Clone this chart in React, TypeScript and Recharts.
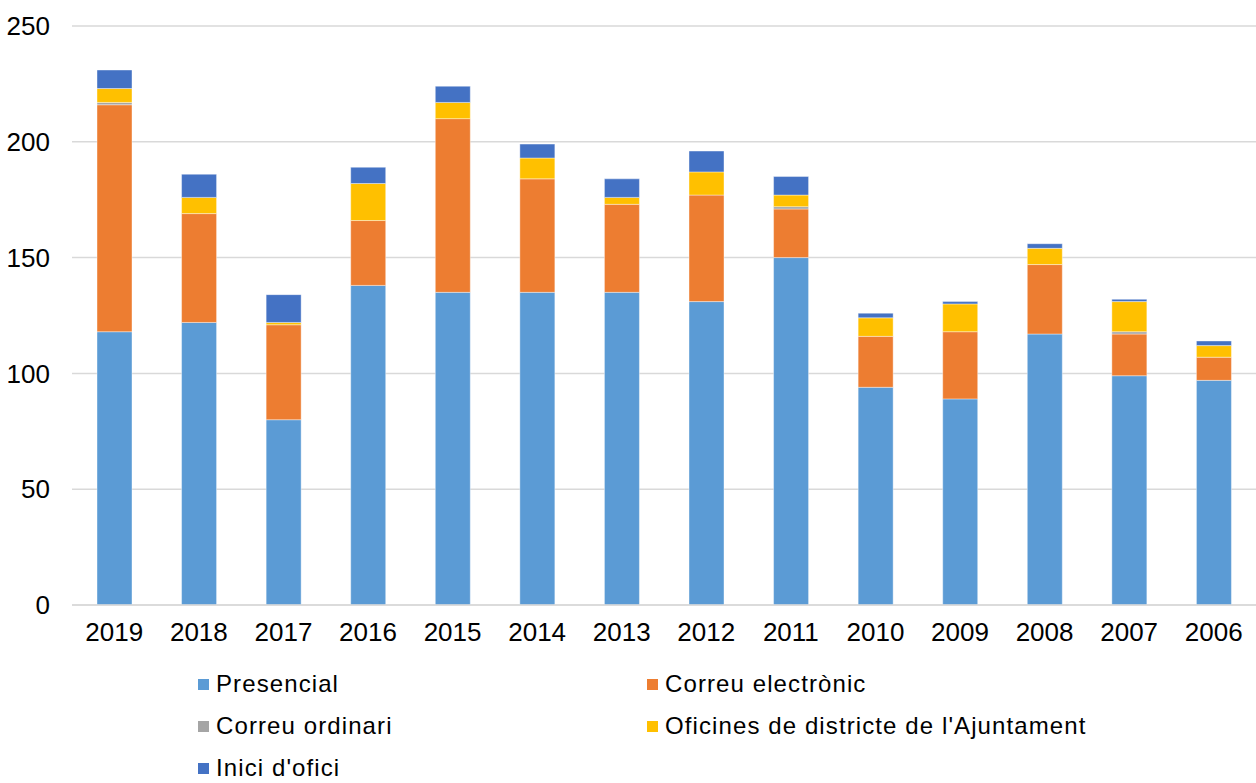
import React from 'react';
import { BarChart, Bar, XAxis, YAxis, CartesianGrid } from 'recharts';

const years = ['2019', '2018', '2017', '2016', '2015', '2014', '2013', '2012', '2011', '2010', '2009', '2008', '2007', '2006'];
const presencial = [118, 122, 80, 138, 135, 135, 135, 131, 150, 94, 89, 117, 99, 97];
const correuElectronic = [98, 47, 41, 28, 75, 49, 38, 46, 21, 22, 29, 30, 18, 10];
const correuOrdinari = [1, 0, 0, 0, 0, 0, 0, 0, 1, 0, 0, 0, 1, 0];
const oficines = [6, 7, 1, 16, 7, 9, 3, 10, 5, 8, 12, 7, 13, 5];
const iniciOfici = [8, 10, 12, 7, 7, 6, 8, 9, 8, 2, 1, 2, 1, 2];
const yTicks = [0, 50, 100, 150, 200, 250];

const seriesNames = ['Presencial', 'Correu electrònic', 'Correu ordinari', "Oficines de districte de l'Ajuntament", "Inici d'ofici"];
const seriesColors = ['#5B9BD5', '#ED7D31', '#A5A5A5', '#FFC000', '#4472C4'];
const seriesKeys = ['presencial', 'correuElectronic', 'correuOrdinari', 'oficines', 'iniciOfici'];

const data = years.map((y, i) => ({
  year: y,
  presencial: presencial[i],
  correuElectronic: correuElectronic[i],
  correuOrdinari: correuOrdinari[i],
  oficines: oficines[i],
  iniciOfici: iniciOfici[i],
}));

const FONT = '"Liberation Sans", Arial, sans-serif';

export default function App() {
  return (
    <div style={{ position: 'absolute', left: 0, top: 0, width: 1256, height: 783, background: '#fff' }}>
      <BarChart
        width={1256}
        height={783}
        data={data}
        margin={{ top: 26, right: 0, left: 0, bottom: 0 }}
        barSize={35}
      >
        <CartesianGrid vertical={false} stroke="#d9d9d9" strokeWidth={1.5} />
        <XAxis
          dataKey="year"
          axisLine={{ stroke: '#d9d9d9', strokeWidth: 1.5 }}
          tickLine={false}
          tickSize={0}
          tickMargin={18}
          height={178}
          tick={{ fill: '#000', fontSize: 26, fontFamily: FONT }}
          interval={0}
        />
        <YAxis
          domain={[0, 250]}
          ticks={yTicks}
          width={72}
          axisLine={false}
          tickLine={false}
          tickSize={0}
          tickMargin={22}
          tick={{ fill: '#000', fontSize: 26, fontFamily: FONT }}
          interval={0}
        />
        {seriesKeys.map((k, i) => (
          <Bar
            key={k}
            dataKey={k}
            name={seriesNames[i]}
            stackId="a"
            fill={seriesColors[i]}
            stroke="#ffffff"
            strokeOpacity={0.4}
            strokeWidth={1}
            isAnimationActive={false}
          />
        ))}
      </BarChart>
      <div
        style={{
          position: 'absolute',
          left: 198,
          top: 663,
          display: 'grid',
          gridTemplateColumns: '449px 560px',
          fontFamily: FONT,
        }}
      >
        {seriesNames.map((name, i) => (
          <div key={name} style={{ display: 'flex', alignItems: 'center', height: 42 }}>
            <span style={{ display: 'inline-block', width: 11, height: 11, background: seriesColors[i], marginRight: 7 }} />
            <span style={{ fontSize: 24, letterSpacing: 1.1, color: '#000', whiteSpace: 'nowrap' }}>{name}</span>
          </div>
        ))}
      </div>
    </div>
  );
}
